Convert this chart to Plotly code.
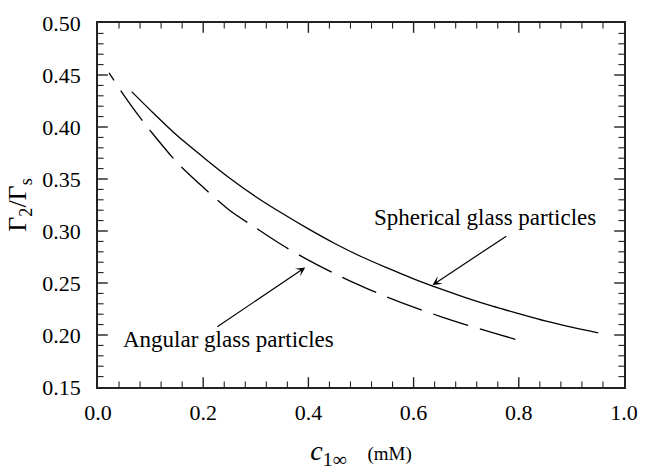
import plotly.graph_objects as go

# Data
sph_c = [0.064, 0.10, 0.15, 0.20, 0.25, 0.30, 0.35, 0.40, 0.45, 0.50, 0.55, 0.60, 0.65,
         0.70, 0.75, 0.80, 0.85, 0.90, 0.951]
sph_v = [0.434, 0.416, 0.392, 0.371, 0.351, 0.333, 0.317, 0.302, 0.288, 0.2755, 0.2645, 0.254, 0.2445,
         0.2357, 0.2277, 0.2205, 0.2135, 0.2075, 0.202]

ang_c = [0.021, 0.05, 0.086, 0.10, 0.15, 0.20, 0.25, 0.30, 0.35, 0.40, 0.45, 0.50, 0.55,
         0.60, 0.65, 0.70, 0.75, 0.794]
ang_v = [0.452, 0.430, 0.405, 0.396, 0.366, 0.342, 0.320, 0.303, 0.2865, 0.272, 0.259, 0.2472, 0.2365,
         0.2268, 0.218, 0.2098, 0.2023, 0.1958]

x_ticks = [0.0, 0.2, 0.4, 0.6, 0.8, 1.0]
y_ticks = [0.15, 0.20, 0.25, 0.30, 0.35, 0.40, 0.45, 0.50]
x_minor_step = 0.04
y_minor_step = 0.01

labels = ["Spherical glass particles", "Angular glass particles"]
label_pos = [(0.735, 0.313), (0.249, 0.196)]
arrow_tip = [(0.636, 0.248), (0.394, 0.265)]
arrow_tail = [(0.779, 0.296), (0.224, 0.207)]

FONT = "Liberation Serif"
AX = "#222"

fig = go.Figure()
fig.add_trace(go.Scatter(x=sph_c, y=sph_v, mode="lines",
                         line=dict(color="black", width=1.3, shape="spline", smoothing=0.8),
                         showlegend=False))
dash = "9px,12px," + ",".join(["37px,12px"] * 14)
fig.add_trace(go.Scatter(x=ang_c, y=ang_v, mode="lines",
                         line=dict(color="black", width=1.3, dash=dash, shape="spline", smoothing=0.8),
                         showlegend=False))

# Inside tick marks on all four sides: half of each line marker is clipped by the plot area
x_lo, x_hi = x_ticks[0], x_ticks[-1]
y_lo, y_hi = y_ticks[0], y_ticks[-1]
x_major = x_ticks[1:-1]
y_major = y_ticks[1:-1]
x_minor = [x_lo + i * x_minor_step for i in range(1, int(round((x_hi - x_lo) / x_minor_step)))]
x_minor = [v for v in x_minor if min(abs(v - t) for t in x_ticks) > 1e-6]
y_minor = [y_lo + i * y_minor_step for i in range(1, int(round((y_hi - y_lo) / y_minor_step)))]
y_minor = [v for v in y_minor if min(abs(v - t) for t in y_ticks) > 1e-6]

def tick_trace(xs, ys, symbol, size, width):
    fig.add_trace(go.Scatter(x=xs, y=ys, mode="markers", cliponaxis=True, showlegend=False,
                             hoverinfo="skip",
                             marker=dict(symbol=symbol, size=size, color=AX,
                                         line=dict(color=AX, width=width))))

for edge in (y_lo, y_hi):
    tick_trace(x_major, [edge] * len(x_major), "line-ns", 14, 1.4)
    tick_trace(x_minor, [edge] * len(x_minor), "line-ns", 8, 1.1)
for edge in (x_lo, x_hi):
    tick_trace([edge] * len(y_major), y_major, "line-ew", 14, 1.4)
    tick_trace([edge] * len(y_minor), y_minor, "line-ew", 8, 1.1)

for txt, (lx, ly) in zip(labels, label_pos):
    fig.add_annotation(x=lx, y=ly, xref="x", yref="y", text=txt, showarrow=False,
                       font=dict(family=FONT, size=23, color="black"))
for (tx, ty), (ax, ay) in zip(arrow_tip, arrow_tail):
    fig.add_annotation(x=tx, y=ty, ax=ax, ay=ay, xref="x", yref="y", axref="x", ayref="y",
                       text="", showarrow=True, arrowhead=3, arrowsize=1.3, arrowwidth=1.2,
                       arrowcolor="black")

common = dict(showline=True, linecolor=AX, linewidth=1.5, mirror=True,
              ticks="inside", ticklen=7, tickcolor="rgba(0,0,0,0)",
              showgrid=False, zeroline=False,
              tickfont=dict(family=FONT, size=22, color="black"))

fig.update_layout(
    xaxis=dict(range=[x_lo, x_hi], tickvals=x_ticks, ticktext=[f"{v:.1f}" for v in x_ticks],
               ticklabelstandoff=5,
               title=dict(text="<i>c</i><sub>1∞</sub>   <span style='font-size:19px'>(mM)</span>",
                          font=dict(family=FONT, size=28, color="black"), standoff=16),
               **common),
    yaxis=dict(range=[y_lo, y_hi], tickvals=y_ticks, ticktext=[f"{v:.2f}  " for v in y_ticks],
               title=dict(text="Γ<sub>2</sub>/Γ<sub>s</sub>",
                          font=dict(family=FONT, size=26, color="black"), standoff=8),
               **common),
    width=649, height=473, margin=dict(l=98, r=16, t=11, b=86),
    plot_bgcolor="white", paper_bgcolor="white",
)

fig.write_html("out.html")
